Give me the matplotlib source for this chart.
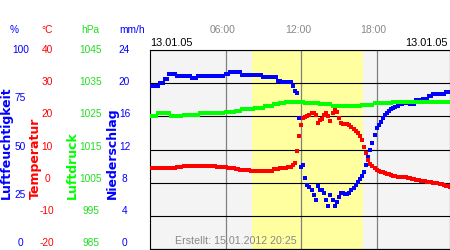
import numpy as np
import matplotlib
matplotlib.use("Agg")
import matplotlib.pyplot as plt
import matplotlib.transforms as mtransforms

# ---------------- data (10-minute samples, 13.01.05 00:00 .. 23:50) ----------------
humidity = [
    81.9, 81.9, 81.9, 81.9, 81.9, 83.4, 83.4, 85.2, 85.2, 87.8, 87.8, 87.8,
    87.8, 86.9, 86.9, 86.9, 86.9, 86.9, 86.9, 86.9, 85.9, 85.9, 85.9, 86.9,
    86.9, 86.9, 86.9, 86.9, 86.9, 86.9, 86.9, 86.9, 86.9, 86.9, 86.9, 86.9,
    87.8, 87.8, 88.8, 88.8, 88.8, 88.8, 88.8, 88.8, 87.4, 87.4, 87.4, 87.4,
    87.4, 87.4, 87.4, 87.4, 87.4, 87.4, 86.3, 86.3, 86.3, 86.3, 86.3, 86.3,
    86.3, 84.6, 84.6, 83.8, 83.8, 83.8, 83.8, 83.8, 81.9, 79.6, 78.5, 66.0,
    41.0, 42.0, 35.5, 32.2, 31.0, 29.6, 27.1, 24.6, 31.7, 29.6, 29.6, 28.3,
    24.6, 21.6, 27.1, 24.6, 21.6, 23.8, 26.0, 28.0, 28.0, 27.5, 27.5, 28.3,
    29.6, 30.5, 32.2, 33.8, 35.0, 36.5, 38.5, 42.0, 46.4, 49.5, 53.5, 57.5,
    60.6, 62.5, 64.0, 66.0, 67.5, 68.5, 69.5, 70.5, 71.0, 71.5, 72.0, 72.7,
    72.9, 73.2, 73.2, 73.2, 72.7, 72.7, 72.7, 74.9, 74.9, 74.9, 75.2, 75.2,
    75.2, 76.9, 76.9, 77.9, 77.9, 77.9, 77.9, 77.9, 77.9, 78.7, 78.7, 78.7,
]

temperature = [
    4.4, 4.4, 4.4, 4.4, 4.4, 4.4, 4.4, 4.4, 4.4, 4.4, 4.4, 4.4,
    4.4, 4.7, 4.7, 4.7, 5.0, 5.0, 5.0, 5.0, 5.0, 5.0, 5.0, 5.0,
    5.0, 5.0, 5.0, 5.0, 5.0, 5.0, 5.0, 5.0, 4.6, 4.6, 4.6, 4.6,
    4.6, 4.3, 4.3, 4.3, 4.3, 4.0, 4.0, 3.7, 3.7, 3.7, 3.7, 3.7,
    3.5, 3.5, 3.5, 3.5, 3.5, 3.5, 3.5, 3.5, 3.5, 3.5, 3.5, 4.0,
    4.0, 4.0, 4.3, 4.3, 4.3, 4.3, 4.8, 4.8, 5.3, 5.8, 9.5, 14.0,
    17.5, 19.5, 19.9, 20.2, 20.5, 20.9, 21.1, 20.5, 18.0, 18.8, 19.2, 20.4,
    20.9, 20.0, 18.6, 20.9, 22.2, 21.4, 19.5, 17.9, 17.7, 17.7, 17.7, 17.3,
    16.8, 16.2, 15.6, 15.0, 14.0, 12.8, 10.8, 8.8, 6.9, 5.7, 5.0, 4.4,
    3.8, 3.5, 3.3, 3.1, 2.9, 2.7, 2.5, 2.3, 2.1, 1.9, 1.8, 1.8,
    1.7, 1.6, 1.6, 1.4, 1.3, 1.2, 1.0, 0.8, 0.7, 0.6, 0.5, 0.4,
    0.3, 0.2, 0.1, 0.0, -0.1, -0.2, -0.4, -0.5, -0.7, -0.9, -1.1, -1.3,
]

pressure = [
    1025.1, 1025.1, 1025.1, 1025.1, 1025.9, 1025.9, 1025.9, 1025.9, 1025.9, 1025.9, 1025.1, 1025.1,
    1025.1, 1025.1, 1025.1, 1025.1, 1025.4, 1025.4, 1025.4, 1025.4, 1025.4, 1025.4, 1025.4, 1025.4,
    1025.9, 1025.9, 1025.9, 1025.9, 1025.9, 1025.9, 1026.1, 1026.1, 1026.1, 1026.1, 1026.1, 1026.1,
    1026.4, 1026.4, 1026.4, 1026.4, 1026.4, 1026.7, 1026.7, 1026.7, 1027.1, 1027.1, 1027.1, 1027.1,
    1027.1, 1027.1, 1027.6, 1027.6, 1027.6, 1027.6, 1027.6, 1028.1, 1028.1, 1028.1, 1028.1, 1028.6,
    1028.6, 1028.6, 1028.9, 1028.9, 1028.9, 1029.2, 1029.2, 1029.2, 1029.2, 1029.2, 1029.2, 1029.2,
    1029.2, 1029.2, 1028.9, 1028.9, 1028.9, 1028.9, 1028.9, 1028.9, 1028.9, 1028.6, 1028.6, 1028.6,
    1028.6, 1028.6, 1028.6, 1028.1, 1028.1, 1028.1, 1028.1, 1028.1, 1028.1, 1028.1, 1028.1, 1028.1,
    1028.1, 1028.1, 1028.1, 1028.1, 1028.1, 1028.4, 1028.4, 1028.4, 1028.4, 1028.4, 1028.4, 1028.9,
    1028.9, 1028.9, 1028.9, 1028.9, 1028.9, 1028.9, 1028.9, 1028.9, 1029.2, 1029.2, 1029.2, 1029.2,
    1029.2, 1029.2, 1029.2, 1029.2, 1029.2, 1029.2, 1029.2, 1029.2, 1029.2, 1029.2, 1029.2, 1029.2,
    1029.2, 1029.2, 1029.2, 1029.2, 1029.2, 1029.2, 1029.2, 1029.2, 1029.2, 1029.2, 1029.2, 1029.2,
]

sample_minutes = 10
times = np.arange(len(humidity)) * sample_minutes / 60.0

daylight = (8.08, 16.92)          # hours, yellow band
hour_ticks = [6, 12, 18]
hour_labels = ["06:00", "12:00", "18:00"]

hum_labels = ["100", "75", "50", "25", "0"]
temp_labels = ["40", "30", "20", "10", "0", "-10", "-20"]
pres_labels = ["1045", "1035", "1025", "1015", "1005", "995", "985"]
rain_labels = ["24", "20", "16", "12", "8", "4", "0"]

date_left = "13.01.05"
date_right = "13.01.05"
created = "Erstellt: 15.01.2012 20:25"

# ---------------- figure ----------------
W, H = 450, 250
fig = plt.figure(figsize=(W / 100, H / 100), dpi=100)
fig.patch.set_facecolor("white")

BLUE = "#0000ff"
RED = "#ff0000"
GREEN = "#00ff00"
GREEN_TXT = "#22dd22"
GRAY = "#888888"

ax = fig.add_axes([150 / W, 1 / H, 299.5 / W, 199 / H])
ax.set_facecolor("#f4f4f4")
ax.set_xlim(0, 23.79)
ax.set_ylim(0, 100)
ax.axvspan(daylight[0], daylight[1], color="#ffffa0", lw=0, zorder=0)
ax.set_yticks(np.linspace(0, 100, 7))
ax.set_xticks(hour_ticks)
ax.tick_params(length=0, labelleft=False, labelbottom=False)
ax.set_axisbelow(True)
ax.yaxis.grid(True, color="black", lw=0.8)
ax.xaxis.grid(True, color="#808080", lw=0.9)
for sp in ax.spines.values():
    sp.set_color("black")
    sp.set_linewidth(0.8)

ax_t = ax.twinx()
ax_t.set_ylim(-20, 40)
ax_p = ax.twinx()
ax_p.set_ylim(985, 1045)
for a in (ax_t, ax_p):
    a.set_yticks([])
    for sp in a.spines.values():
        sp.set_visible(False)
    a.patch.set_visible(False)

mk = dict(marker="s", linestyle="none", ms=2.6, mew=0)
ax.plot(times, humidity, color=BLUE, zorder=3, **mk)
ax_t.plot(times, temperature, color=RED, zorder=3, **mk)
ax_p.plot(times, pressure, color=GREEN, zorder=3, **mk)

# hour labels above the plot
trans = mtransforms.offset_copy(ax.get_xaxis_transform(), fig=fig, x=-3, y=0, units="dots")
for h, lab in zip(hour_ticks, hour_labels):
    ax.text(h, 1.0 + 20 / 199, lab, transform=trans, ha="center", va="center",
            fontsize=7.5, color=GRAY, family="Liberation Sans")


def ftext(x, y, s, **kw):
    kw.setdefault("family", "Liberation Sans")
    return fig.text(x / W, 1 - y / H, s, **kw)


ftext(150, 43, date_left, ha="left", va="center", fontsize=7.8, color="black")
ftext(448, 43, date_right, ha="right", va="center", fontsize=7.8, color="black")
ftext(175, 241.5, created, ha="left", va="center", fontsize=7.7, color=GRAY)

# left side scales
top_y, bot_y = 50, 243


def column(labels, xc, color):
    n = len(labels)
    for k, lab in enumerate(labels):
        y = top_y + k * (bot_y - top_y) / (n - 1)
        ftext(xc, y, lab, ha="center", va="center", fontsize=7.3, color=color)


column(hum_labels, 20.5, BLUE)
column(temp_labels, 47, RED)
column(pres_labels, 91, GREEN_TXT)
column(rain_labels, 124.5, BLUE)

ftext(14, 30, "%", ha="center", va="center", fontsize=7.3, color=BLUE)
ftext(47, 30, "°C", ha="center", va="center", fontsize=7.3, color=RED)
ftext(90, 30, "hPa", ha="center", va="center", fontsize=7.3, color=GREEN_TXT)
ftext(132, 30, "mm/h", ha="center", va="center", fontsize=7.3, color=BLUE)

rot = dict(rotation=90, ha="center", va="bottom", fontsize=9, fontweight="bold",
           family="DejaVu Sans")
ftext(6, 199, "Luftfeuchtigkeit", color=BLUE, **rot)
ftext(35.5, 199, "Temperatur", color=RED, **rot)
ftext(72, 199, "Luftdruck", color=GREEN, **rot)
ftext(112, 199, "Niederschlag", color=BLUE, **rot)

fig.savefig("out.png", dpi=100, facecolor="white")
